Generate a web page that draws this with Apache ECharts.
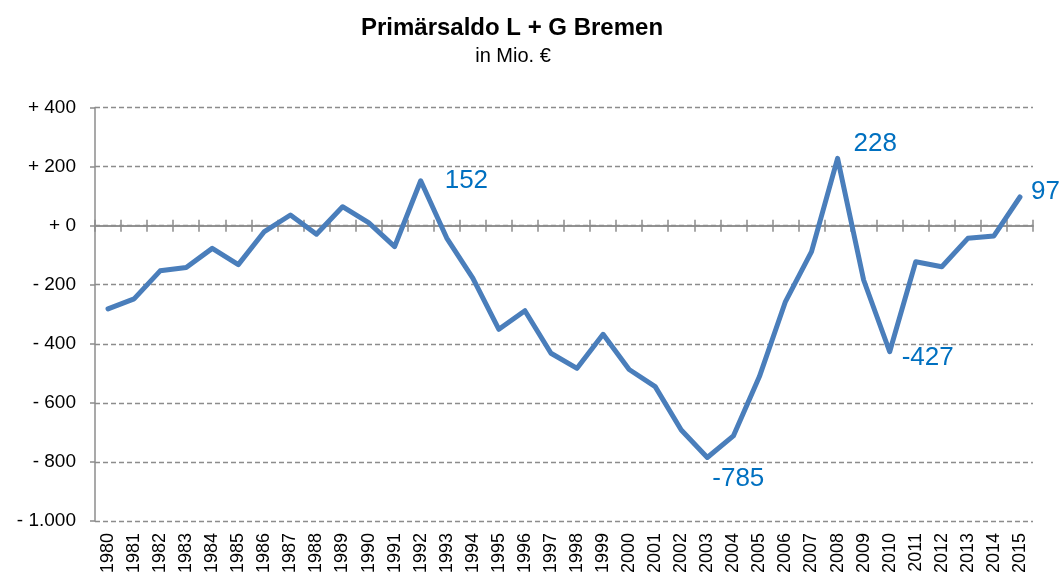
<!DOCTYPE html>
<html>
<head>
<meta charset="utf-8">
<script src="https://cdn.jsdelivr.net/npm/echarts@6/dist/echarts.min.js"></script>
<style>
  html, body { margin: 0; padding: 0; background: #fff; }
  #chart { width: 1063px; height: 579px; }
</style>
</head>
<body>
<div id="chart"></div>
<script>
const years = ['1980', '1981', '1982', '1983', '1984', '1985', '1986', '1987', '1988', '1989',
  '1990', '1991', '1992', '1993', '1994', '1995', '1996', '1997', '1998', '1999',
  '2000', '2001', '2002', '2003', '2004', '2005', '2006', '2007', '2008', '2009',
  '2010', '2011', '2012', '2013', '2014', '2015'];
const saldo = [-282, -248, -153, -142, -77, -132, -20, 36, -29, 64,
  10, -71, 152, -42, -178, -351, -288, -432, -483, -368,
  -487, -545, -692, -785, -712, -511, -257, -88, 228, -184,
  -427, -122, -139, -43, -35, 97];
// years with a value label, and where the label sits
const labelled = {
  '1992': { position: 'right', distance: 24, offset: [0, 0] },
  '2003': { position: 'bottom', distance: 8, offset: [31, 0] },
  '2008': { position: 'right', distance: 16, offset: [0, -14] },
  '2010': { position: 'right', distance: 12, offset: [0, 6] },
  '2015': { position: 'right', distance: 11, offset: [0, -5] }
};
const yMin = -1000;
const yMax = 400;
const yStep = 200;

const font = 'Liberation Sans';
const grey = '#8c8c8c';

function yLabel(v) {
  const abs = Math.abs(v).toString().replace(/\B(?=(\d{3})+(?!\d))/g, '.');
  return (v < 0 ? '- ' : '+ ') + abs;
}

const chart = echarts.init(document.getElementById('chart'));

const gridBox = { left: 95, right: 30, top: 107.5, bottom: 58 };

const option = {
  backgroundColor: '#fff',
  animation: false,
  graphic: [
    {
      type: 'text',
      style: {
        x: 512, y: 28, text: 'Primärsaldo L + G Bremen',
        textAlign: 'center', textVerticalAlign: 'middle',
        fontSize: 24, fontWeight: 'bold', fontFamily: font, fill: '#000'
      }
    },
    {
      type: 'text',
      style: {
        x: 513, y: 56, text: 'in Mio. €',
        textAlign: 'center', textVerticalAlign: 'middle',
        fontSize: 20, fontFamily: font, fill: '#000'
      }
    }
  ],
  // two identical grids: the second one only carries the upward half of the zero-line ticks
  grid: [Object.assign({}, gridBox), Object.assign({}, gridBox)],
  xAxis: [
    {
      type: 'category',
      gridIndex: 0,
      data: years,
      position: 'bottom',
      axisLine: { show: true, onZero: true, lineStyle: { color: grey, width: 1.5 } },
      axisTick: { show: true, interval: 0, inside: false, length: 6, lineStyle: { color: grey, width: 1.5 } },
      axisLabel: { show: false },
      splitLine: { show: false },
      z: 3
    },
    {
      type: 'category',
      gridIndex: 0,
      data: years,
      position: 'bottom',
      axisLine: { show: false, onZero: false },
      axisTick: { show: false },
      axisLabel: {
        rotate: 90,
        margin: 12,
        color: '#000',
        fontSize: 18,
        fontFamily: font,
        interval: 0
      },
      splitLine: { show: false }
    },
    {
      type: 'category',
      gridIndex: 1,
      data: years,
      position: 'bottom',
      axisLine: { show: true, onZero: true, lineStyle: { color: grey, width: 1.5 } },
      axisTick: { show: true, interval: 0, inside: true, length: 6, lineStyle: { color: grey, width: 1.5 } },
      axisLabel: { show: false },
      splitLine: { show: false },
      z: 3
    }
  ],
  yAxis: [
    {
      type: 'value',
      gridIndex: 0,
      min: yMin,
      max: yMax,
      interval: yStep,
      axisLine: { show: true, lineStyle: { color: grey, width: 1.5 } },
      axisTick: { show: true, length: 5, lineStyle: { color: grey, width: 1.5 } },
      axisLabel: {
        margin: 19,
        color: '#000',
        fontSize: 19,
        fontFamily: font,
        formatter: yLabel
      },
      splitLine: {
        show: true,
        lineStyle: { color: grey, type: [5, 3], width: 1.3 }
      }
    },
    {
      type: 'value',
      gridIndex: 1,
      min: yMin,
      max: yMax,
      interval: yStep,
      axisLine: { show: false },
      axisTick: { show: false },
      axisLabel: { show: false },
      splitLine: { show: false }
    }
  ],
  series: [
    {
      type: 'line',
      xAxisIndex: 0,
      yAxisIndex: 0,
      data: saldo.map((v, i) => {
        const l = labelled[years[i]];
        if (!l) return v;
        return {
          value: v,
          label: {
            show: true,
            position: l.position,
            distance: l.distance,
            offset: l.offset,
            color: '#0070c0',
            fontSize: 26,
            fontFamily: font
          }
        };
      }),
      symbol: 'circle',
      symbolSize: 0,
      showAllSymbol: true,
      lineStyle: { color: '#4a7ebb', width: 5, join: 'round', cap: 'round' },
      itemStyle: { color: '#4a7ebb' },
      z: 5
    }
  ]
};

chart.setOption(option);
</script>
</body>
</html>
